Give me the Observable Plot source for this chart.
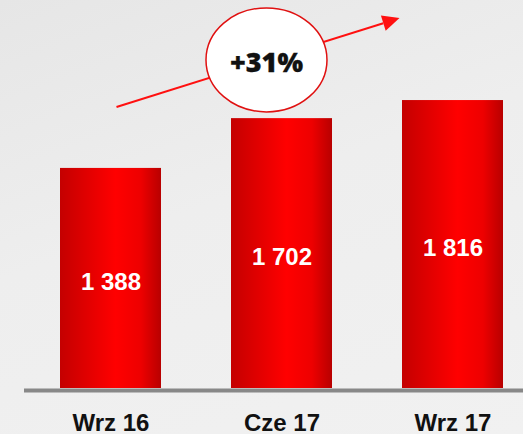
<!DOCTYPE html>
<html>
<head>
<meta charset="utf-8">
<script src="https://cdn.jsdelivr.net/npm/d3@7"></script>
<script src="https://cdn.jsdelivr.net/npm/@observablehq/plot@0.6"></script>
<style>
  html, body { margin: 0; padding: 0; background: #ebebeb; }
  body { width: 523px; height: 434px; overflow: hidden;
         background: linear-gradient(160deg, #e6e6e6 0%, #eeeeee 45%, #f1f1f1 100%); }
</style>
</head>
<body>
<div id="chart"></div>
<script>
const categories = ["Wrz 16", "Cze 17", "Wrz 17"];
const values = [1388, 1702, 1816];
const growth = Math.round((values[values.length - 1] / values[0] - 1) * 100);
const growthLabel = (growth >= 0 ? "+" : "") + growth + "%";

const data = categories.map((c, i) => ({period: c, value: values[i]}));
const fmt = v => d3.format(",")(v).replace(/,/g, " ");
const font = "'Liberation Sans', Arial, sans-serif";

const defs = () => {
  const d = d3.create("svg:defs");
  const g = d.append("linearGradient").attr("id", "barGrad")
    .attr("x1", "0%").attr("x2", "100%").attr("y1", "0%").attr("y2", "0%");
  g.append("stop").attr("offset", "0%").attr("stop-color", "#c40000");
  g.append("stop").attr("offset", "55%").attr("stop-color", "#ff0000");
  g.append("stop").attr("offset", "80%").attr("stop-color", "#ee0000");
  g.append("stop").attr("offset", "100%").attr("stop-color", "#b80000");
  return d.node();
};

const plot = Plot.plot({
  width: 523,
  height: 434,
  marginTop: 0,
  marginBottom: 46,
  marginLeft: 60,
  marginRight: 20,
  style: {background: "transparent", overflow: "visible", fontFamily: font},
  x: {domain: categories, paddingInner: 0.41, paddingOuter: 0, label: null},
  y: {domain: [0, 2447], axis: null},
  marks: [
    defs,
    Plot.barY(data, {x: "period", y: "value", fill: "url(#barGrad)"}),
    Plot.ruleY([0], {stroke: "#888888", strokeWidth: 4, dy: 2, insetLeft: -36, insetRight: -20}),
    Plot.text(data, {
      x: "period", y: d => d.value / 2, text: d => fmt(d.value),
      fill: "white", fontSize: 24, fontWeight: "bold", dy: 4, fontFamily: font
    }),
    Plot.axisX({tickSize: 0, tickPadding: 25, fontSize: 24, fontWeight: "bold", fill: "#111", label: null, fontFamily: font})
  ]
});

document.getElementById("chart").appendChild(plot);

// Growth annotation positioned through the plot's scales
const xs = plot.scale("x"), ys = plot.scale("y");
const cx = c => xs.apply(c) + (xs.bandwidth || 0) / 2;
const x1 = cx(categories[0]) + 6, y1 = ys.apply(1772);
const x2 = cx(categories[categories.length - 1]) - 53, y2 = ys.apply(2333);
const svg = d3.select(plot);
const ann = svg.append("g");
const ang = Math.atan2(y2 - y1, x2 - x1);
const headLen = 17, headW = 8;
const bx = x2 - headLen * Math.cos(ang), by = y2 - headLen * Math.sin(ang);
ann.append("line")
  .attr("x1", x1).attr("y1", y1).attr("x2", bx).attr("y2", by)
  .attr("stroke", "#ff1010").attr("stroke-width", 2);
ann.append("polygon")
  .attr("points", [
    [x2, y2],
    [bx + headW * Math.sin(ang), by - headW * Math.cos(ang)],
    [bx - headW * Math.sin(ang), by + headW * Math.cos(ang)]
  ].map(p => p.join(",")).join(" "))
  .attr("fill", "#ff1010");
const t = 0.53;
const ex = x1 + t * (x2 - x1), ey = y1 + t * (y2 - y1);
ann.append("ellipse")
  .attr("cx", ex).attr("cy", ey).attr("rx", 60.5).attr("ry", 52)
  .attr("fill", "white").attr("stroke", "#e01010").attr("stroke-width", 1.5);
ann.append("text")
  .attr("x", ex).attr("y", ey + 2).attr("text-anchor", "middle").attr("dominant-baseline", "central")
  .attr("font-family", "'Open Sans', 'DejaVu Sans', sans-serif").attr("font-weight", 800)
  .attr("font-size", 27).attr("fill", "#111").attr("stroke", "#111").attr("stroke-width", 0.3)
  .text(growthLabel);
</script>
</body>
</html>
